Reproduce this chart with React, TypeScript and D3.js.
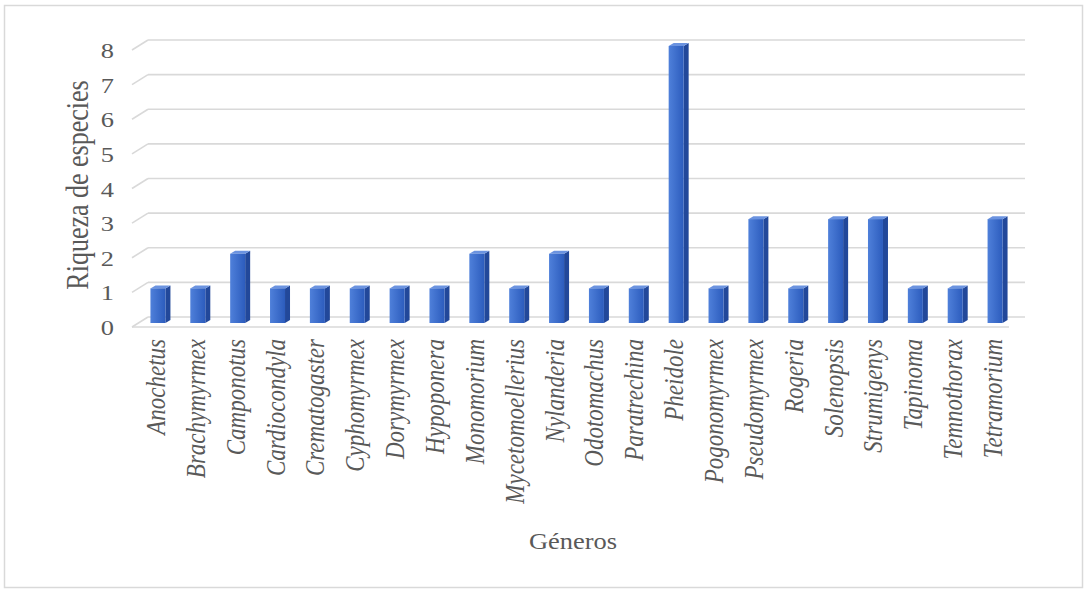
import React from "react";
import * as d3 from "d3";

const generos = [
  "Anochetus", "Brachymyrmex", "Camponotus", "Cardiocondyla", "Crematogaster",
  "Cyphomyrmex", "Dorymyrmex", "Hypoponera", "Monomorium", "Mycetomoellerius",
  "Nylanderia", "Odotomachus", "Paratrechina", "Pheidole", "Pogonomyrmex",
  "Pseudomyrmex", "Rogeria", "Solenopsis", "Strumigenys", "Tapinoma",
  "Temnothorax", "Tetramorium",
];
const riqueza = [1, 1, 2, 1, 1, 1, 1, 1, 2, 1, 2, 1, 1, 8, 1, 3, 1, 3, 3, 1, 1, 3];
const yTicks = [0, 1, 2, 3, 4, 5, 6, 7, 8];

const W = 1085;
const H = 591;
// back wall of the 3D plot area
const backLeft = 148;
const backRight = 1025;
const backBottom = 317;
const backTop = 40;
// floor depth (back -> front)
const depthDx = -16;
const depthDy = 10;
// bar front plane offset from back wall, and bar depth
const barDx = -10;
const barDy = 6;
const barDepthDx = 5;
const barDepthDy = -3;
const barWidth = 15;
// glyphs are drawn slightly wide
const sx = 1.2;

const serif = "'Liberation Serif', 'Times New Roman', serif";
const textColor = "#595959";
const gridColor = "#d9d9d9";

export default function App() {
  const x = d3.scaleBand<string>().domain(generos).range([backLeft, backRight]);
  const y = d3.scaleLinear().domain([0, 8]).range([backBottom, backTop]);

  return (
    <svg
      width={W}
      height={H}
      style={{ position: "absolute", left: 0, top: 0, background: "#fff" }}
    >
      <defs>
        <linearGradient id="barFront" x1="0" x2="1" y1="0" y2="0">
          <stop offset="0%" stopColor="#4f80da" />
          <stop offset="100%" stopColor="#2c5cbd" />
        </linearGradient>
      </defs>
      <rect x={4.5} y={5.5} width={1078} height={582} fill="#fff" stroke={gridColor} strokeWidth={1.5} />

      {/* gridlines on the back wall with the left-side depth edge */}
      {yTicks.map((t) => (
        <g key={t}>
          <line x1={backLeft} x2={backRight} y1={y(t)} y2={y(t)} stroke={gridColor} strokeWidth={1.6} />
          <line
            x1={backLeft}
            y1={y(t)}
            x2={backLeft + depthDx}
            y2={y(t) + depthDy}
            stroke={gridColor}
            strokeWidth={1.6}
          />
        </g>
      ))}
      {/* front edge of the floor */}
      <line
        x1={backLeft + depthDx}
        x2={backRight + depthDx}
        y1={y(0) + depthDy}
        y2={y(0) + depthDy}
        stroke={gridColor}
        strokeWidth={1.6}
      />

      {/* tick labels */}
      {yTicks.map((t) => (
        <text
          key={"l" + t}
          transform={`translate(114,${y(t) + 18}) scale(${sx},1)`}
          textAnchor="end"
          fontFamily={serif}
          fontSize={22}
          fill={textColor}
        >
          {t}
        </text>
      ))}

      {/* 3D bars */}
      {generos.map((g, i) => {
        const cx = (x(g) as number) + x.bandwidth() / 2 + barDx;
        const x0 = cx - barWidth / 2;
        const x1 = cx + barWidth / 2;
        const yb = y(0) + barDy;
        const yt = y(riqueza[i]) + barDy;
        const top = `M${x0},${yt} L${x1},${yt} L${x1 + barDepthDx},${yt + barDepthDy} L${x0 + barDepthDx},${yt + barDepthDy} Z`;
        const side = `M${x1},${yt} L${x1 + barDepthDx},${yt + barDepthDy} L${x1 + barDepthDx},${yb + barDepthDy} L${x1},${yb} Z`;
        return (
          <g key={g}>
            <path d={side} fill="#22489a" />
            <path d={top} fill="#6b93e0" />
            <rect x={x0} y={yt} width={barWidth} height={yb - yt} fill="url(#barFront)" />
          </g>
        );
      })}

      {/* category labels */}
      {generos.map((g) => {
        const cx = (x(g) as number) + x.bandwidth() / 2 + barDx;
        const lx = cx + 7;
        const ly = 339;
        return (
          <text
            key={"c" + g}
            transform={`translate(${lx},${ly}) scale(${sx},1) rotate(-90)`}
            textAnchor="end"
            fontFamily={serif}
            fontStyle="italic"
            fontSize={23}
            fill={textColor}
          >
            {g}
          </text>
        );
      })}

      {/* axis titles */}
      <text
        transform={`translate(88,185) scale(${sx},1) rotate(-90)`}
        textAnchor="middle"
        fontFamily={serif}
        fontSize={26}
        fill={textColor}
      >
        Riqueza de especies
      </text>
      <text
        transform={`translate(573,549) scale(1.15,1)`}
        textAnchor="middle"
        fontFamily={serif}
        fontSize={23}
        fill={textColor}
      >
        Géneros
      </text>
    </svg>
  );
}
